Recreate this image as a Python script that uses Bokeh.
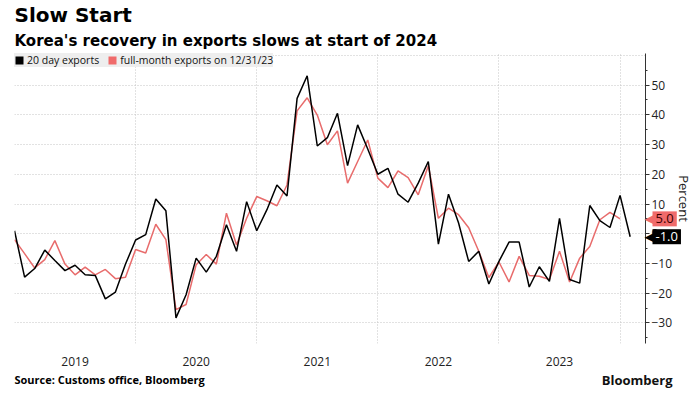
import pandas as pd
from bokeh.plotting import figure
from bokeh.models import (FixedTicker, Range1d, Title, Legend, LegendItem, Label)
from bokeh.embed import file_html
from bokeh.resources import INLINE

# Months: Dec 2018 ... Jan 2024 (plotted at month end)
months = pd.period_range("2018-12", "2024-01", freq="M")

# 20 day exports, YoY % (Dec 2018 .. Jan 2024)
day20_exports = [
    1.0, -14.6, -11.7, -5.5, -9.0, -12.4, -10.6, -13.8, -14.0, -21.9, -19.6, -10.2,
    -2.1, -0.3, 11.7, 7.7, -28.3, -20.5, -8.2, -12.9, -7.6, 3.0, -5.9, 10.8,
    1.0, 8.0, 16.4, 12.7, 45.5, 53.1, 29.5, 32.3, 40.5, 22.9, 36.6, 28.5,
    20.0, 22.0, 13.3, 10.6, 17.0, 24.3, -3.5, 13.3, 3.6, -9.3, -5.9, -16.9,
    -9.3, -2.8, -2.8, -17.9, -11.1, -16.0, 5.2, -15.4, -16.6, 9.5, 4.4, 2.1,
    12.9, -1.0,
]

# Full-month exports on 12/31/23, YoY % (Dec 2018 .. Dec 2023)
full_month_exports = [
    -2.0, -6.7, -11.5, -8.7, -2.3, -10.2, -13.8, -11.2, -13.8, -12.0, -15.1, -14.6,
    -5.3, -6.5, 3.2, -2.0, -25.5, -23.8, -10.4, -7.0, -10.2, 6.9, -3.8, 5.2,
    12.5, 11.1, 9.4, 16.4, 41.3, 45.7, 39.9, 29.9, 34.6, 17.0, 24.3, 31.5,
    18.7, 15.5, 21.1, 18.9, 13.1, 22.9, 5.2, 8.6, 6.4, 2.0, -5.9, -14.7,
    -9.5, -16.2, -7.6, -14.0, -14.3, -15.4, -5.9, -16.2, -8.2, -4.3, 4.7, 7.2,
    5.0,
]

year_labels = ["2019", "2020", "2021", "2022", "2023"]
y_ticks = [-30, -20, -10, 0, 10, 20, 30, 40, 50]

RED = "#e86c6c"
TAG_RED = "#f06b6b"
FONT = "Open Sans"
TFONT = "DejaVu Sans"

x_all = [m.year + m.month / 12.0 for m in months]
x_20 = x_all[:len(day20_exports)]
x_full = x_all[:len(full_month_exports)]

x_start, x_end = 2019.0, 2024.21
y_start, y_end = -36.9, 60.6
p = figure(
    frame_width=631, frame_height=290,
    x_range=Range1d(x_start, x_end), y_range=Range1d(y_start, y_end),
    y_axis_location="right", title=None,
    output_backend="svg", toolbar_location=None,
    min_border_left=14, min_border_right=0, min_border_top=52, min_border_bottom=0,
    outline_line_color=None, background_fill_color="white",
)

# grids
years = [int(y) for y in year_labels] + [int(year_labels[-1]) + 1]
p.xgrid.ticker = FixedTicker(ticks=years)
p.ygrid.ticker = FixedTicker(ticks=list(range(-30, 61, 10)))
for g in (p.xgrid, p.ygrid):
    g.grid_line_color = "#c4c4c4"
    g.grid_line_dash = "1 2"
    g.grid_line_width = 1

# x axis
xa = p.xaxis[0]
centers = [int(y) + 0.5 for y in year_labels]
xa.ticker = FixedTicker(ticks=centers)
xa.major_label_overrides = {c: y for c, y in zip(centers, year_labels)}
xa.axis_line_color = None
xa.major_tick_line_color = None
xa.minor_tick_line_color = None
xa.major_label_standoff = 7
xa.major_label_text_font = FONT
xa.major_label_text_font_size = "12px"
xa.major_label_text_color = "#222222"

# y axis (right)
ya = p.yaxis[0]
ya.ticker = FixedTicker(ticks=y_ticks, minor_ticks=[t + 5 for t in range(-40, 60, 10)])
ya.axis_line_color = "#333333"
ya.major_tick_line_color = "#333333"
ya.minor_tick_line_color = "#333333"
ya.major_tick_in = 0
ya.major_tick_out = 4
ya.minor_tick_in = 0
ya.minor_tick_out = 2
ya.major_label_standoff = 2
ya.major_label_text_font = FONT
ya.major_label_text_font_size = "12px"
ya.major_label_text_color = "#222222"
ya.axis_label = "Percent"
ya.axis_label_text_font = FONT
ya.axis_label_text_font_size = "13px"
ya.axis_label_text_font_style = "normal"
ya.axis_label_text_color = "#222222"
ya.axis_label_standoff = 0

# lines
p.line(x_full, full_month_exports, line_color=RED, line_width=1.5)
p.line(x_20, day20_exports, line_color="black", line_width=1.5)

# legend with square swatches (zero-size quads, only used as legend swatches)
sw_black = p.quad(left=[x_20[0]], right=[x_20[0]], top=[day20_exports[0]],
                  bottom=[day20_exports[0]], fill_color="black", line_color=None)
sw_red = p.quad(left=[x_full[0]], right=[x_full[0]], top=[full_month_exports[0]],
                bottom=[full_month_exports[0]], fill_color=TAG_RED, line_color=None)
legend = Legend(
    items=[LegendItem(label="20 day exports", renderers=[sw_black]),
           LegendItem(label="full-month exports on 12/31/23", renderers=[sw_red])],
    location="top_left", orientation="horizontal",
    background_fill_color="#eeeeee", background_fill_alpha=1.0,
    border_line_color=None, margin=0, padding=4, spacing=8,
    glyph_width=10, glyph_height=10, label_standoff=3,
    label_text_font=FONT, label_text_font_size="10.5px", label_height=11,
    label_text_color="#111111",
)
p.add_layout(legend)

# value tags at the right axis (in the right side panel so they are not clipped)
for val, fill, tcol in ((full_month_exports[-1], TAG_RED, "#3a0000"),
                        (day20_exports[-1], "black", "white")):
    p.add_layout(Label(x=x_end, y=val, x_offset=-1, text="\u25c0", text_color=fill,
                       text_font="DejaVu Sans", text_font_size="13px",
                       text_baseline="middle", text_align="left"), "right")
    p.add_layout(Label(x=x_end, y=val, x_offset=7, text=f"{val:.1f}",
                       text_color=tcol, text_font=FONT, text_font_size="13px",
                       text_baseline="middle", text_align="left",
                       background_fill_color=fill, padding=3), "right")

# titles
p.add_layout(Title(text="Korea's recovery in exports slows at start of 2024",
                   text_font=TFONT, text_font_size="15px", text_font_style="bold",
                   text_color="black", align="left", standoff=7), "above")
p.add_layout(Title(text="Slow Start", text_font=TFONT, text_font_size="20px",
                   text_font_style="bold", text_color="black", align="left",
                   standoff=0), "above")
p.add_layout(Title(text="Source: Customs office, Bloomberg", text_font=FONT,
                   text_font_size="11px", text_font_style="bold", text_color="black",
                   align="left", standoff=2), "below")
p.add_layout(Label(x=x_end, y=y_start, x_offset=27, y_offset=-36, text="Bloomberg",
                   text_font=FONT, text_font_size="13px", text_font_style="bold",
                   text_align="right", text_baseline="middle", text_color="#111111"),
             "below")

open("out.html", "w").write(file_html(p, INLINE))
